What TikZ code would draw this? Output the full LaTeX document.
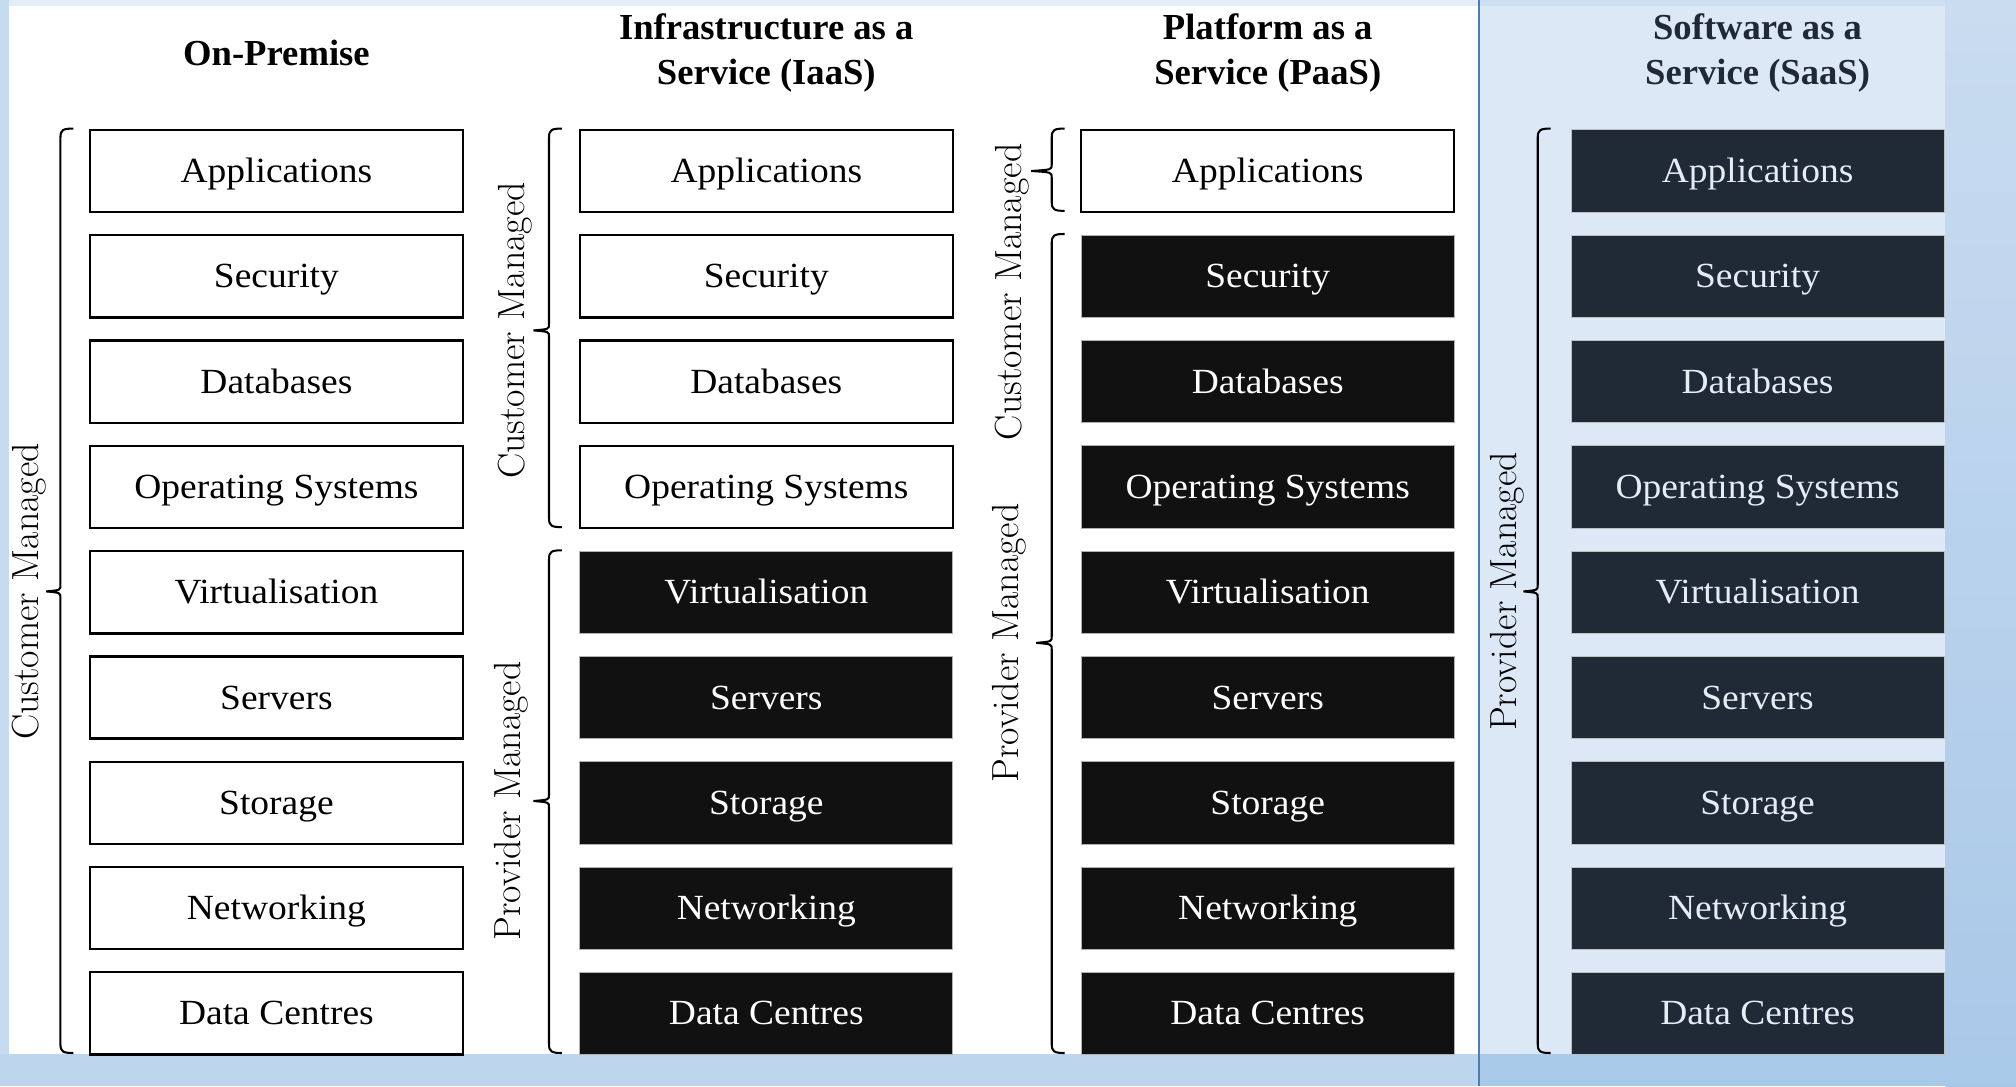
\documentclass[tikz,border=0pt]{standalone}
\usepackage{fontspec}
\setmainfont{Liberation Serif}
\newfontfamily\boxfont[FakeStretch=1.06]{Liberation Serif}
\newfontfamily\lmfont{Latin Modern Roman}
\definecolor{bgblue}{HTML}{BDD6EE}
\definecolor{topstrip}{HTML}{E3EDF8}
\definecolor{leftstrip}{HTML}{C6DBF0}
\definecolor{saasbg}{HTML}{DCE8F5}
\definecolor{saastop}{HTML}{CEDFF1}
\definecolor{rightTop}{HTML}{C9DCF0}
\definecolor{rightBot}{HTML}{A9C8E8}
\definecolor{botright}{HTML}{A9C9E8}
\definecolor{divline}{HTML}{4D7DB3}
\definecolor{darkfill}{HTML}{111111}
\definecolor{navyfill}{HTML}{1F2A36}
\definecolor{navytext}{HTML}{E4ECF4}
\definecolor{navytitle}{HTML}{1F2A36}
\newcommand{\mybrace}[5]{% x, ytop, ybot, ymid, tip length
  \draw[bracestyle] (#1+10,#2) .. controls (#1+2,#2) and (#1,#2+1) .. (#1,#2+7)
    -- (#1,#4-5) .. controls (#1,#4-1) .. (#1-#5,#4)
    .. controls (#1,#4+1) .. (#1,#4+5)
    -- (#1,#3-7) .. controls (#1,#3-1) and (#1+2,#3) .. (#1+10,#3);}
\begin{document}
\begin{tikzpicture}[x=1pt,y=-1pt,
  layer/.style={minimum width=290pt,minimum height=64pt,inner sep=0pt,
    text height=24pt,text depth=6pt,
    font=\boxfont\fontsize{27.5}{30}\selectfont},
  wbox/.style={layer,draw=black,line width=1.8pt,fill=white,text=black},
  kbox/.style={layer,draw=gray!60,line width=0.6pt,fill=darkfill,text=white},
  nbox/.style={layer,draw=gray!50,line width=0.6pt,fill=navyfill,text=navytext},
  title/.style={align=center,font=\bfseries\fontsize{28.5}{35}\selectfont},
  sidelabel/.style={rotate=90,inner sep=0pt,font=\lmfont\fontsize{29.4}{32}\selectfont},
  bracestyle/.style={line width=1.6pt,black}]
\useasboundingbox (0,0) rectangle (1568,845);
% background
\fill[bgblue] (0,0) rectangle (1568,845);
\fill[topstrip] (0,0) rectangle (1150,5);
\fill[leftstrip] (0,0) rectangle (7,820);
\fill[white] (7,5) rectangle (1150,820);
\fill[saastop] (1150,0) rectangle (1513,5);
\fill[saasbg] (1150,5) rectangle (1513,820);
\shade[top color=rightTop,bottom color=rightBot] (1513,0) rectangle (1568,845);
\fill[botright] (1150,820) rectangle (1568,845);
\draw[divline,line width=1.5pt] (1150,0) -- (1150,845);
% titles
\node[title] (tOn) at (215,41) {On-Premise};
\node[title] (tIaaS) at (596,41.5) {Infrastructure as a\\Service (IaaS)};
\node[title] (tPaaS) at (986,41.5) {Platform as a\\Service (PaaS)};
\node[title,text=navytitle] (tSaaS) at (1367,41.5) {Software as a\\Service (SaaS)};
% stacks
\foreach \t [count=\i] in {Applications,Security,Databases,Operating Systems,Virtualisation,Servers,Storage,Networking,Data Centres}{
  \node[wbox] (on\i) at (215,51.1+81.9*\i) {\t};
  \ifnum\i<5
    \node[wbox] (ia\i) at (596,51.1+81.9*\i) {\t};
  \else
    \node[kbox] (ia\i) at (596,51.1+81.9*\i) {\t};
  \fi
  \ifnum\i<2
    \node[wbox] (pa\i) at (986,51.1+81.9*\i) {\t};
  \else
    \node[kbox] (pa\i) at (986,51.1+81.9*\i) {\t};
  \fi
  \node[nbox] (sa\i) at (1367,51.1+81.9*\i) {\t};
}
% braces
\mybrace{47}{100}{819}{460}{11}
\mybrace{427}{100}{410}{257}{12}
\mybrace{427}{428}{819}{623}{12}
\mybrace{818}{100}{164}{133}{16}
\mybrace{818}{182}{819}{500}{12}
\mybrace{1196}{100}{819}{460}{11}
% side labels
\node[sidelabel] (lOn) at (23,460) {Customer Managed};
\node[sidelabel] (lIaC) at (401,257) {Customer Managed};
\node[sidelabel] (lIaP) at (398,623) {Provider Managed};
\node[sidelabel] (lPaC) at (787,227) {Customer Managed};
\node[sidelabel] (lPaP) at (785,500) {Provider Managed};
\node[sidelabel] (lSaP) at (1172,460) {Provider Managed};
\end{tikzpicture}
\end{document}
